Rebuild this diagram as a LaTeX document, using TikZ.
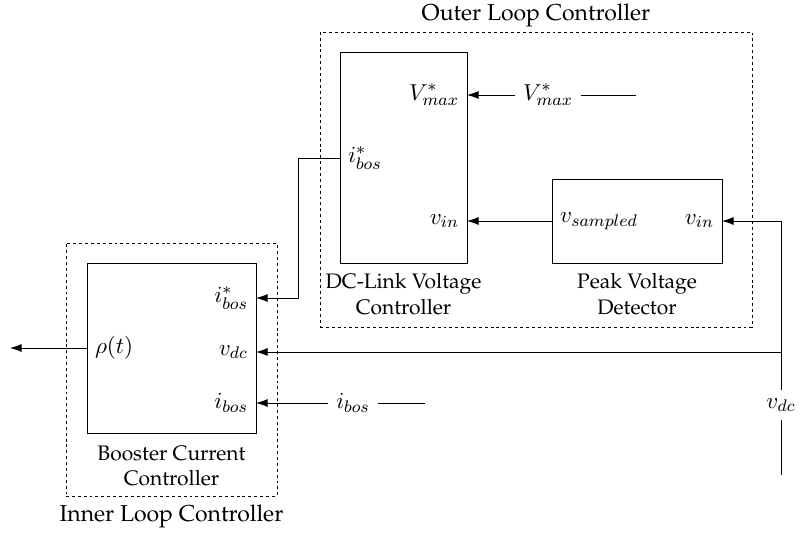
\documentclass[tikz,border=0pt,11pt]{standalone}
\usepackage[T1]{fontenc}
\renewcommand{\rmdefault}{ppl}
\usepackage{amsmath}
\usepackage{amssymb}
\usetikzlibrary{arrows,arrows.meta,positioning}
\newcommand{\pxl}{0.476pt}

\begin{document}
\begin{tikzpicture}[x=0.476pt,y=-0.476pt,>={Latex[length=5.5pt,width=3.8pt]},
    blk/.style={draw,shape=rectangle,inner sep=0pt},
    loopbox/.style={draw,shape=rectangle,inner sep=0pt,dash pattern=on 1.4pt off 1.4pt},
    capt/.style={font=\small,align=center}]
            \useasboundingbox(0,0)rectangle(802,534);

            \node[blk,minimum width=127*\pxl,minimum height=211*\pxl](n1)at(403.5,157.5){};
            \node[blk,minimum width=170*\pxl,minimum height=84*\pxl](n2)at(637,221){};
            \node[blk,minimum width=169*\pxl,minimum height=170*\pxl](n3)at(171.5,348){};
            \node[loopbox,minimum width=432*\pxl,minimum height=295*\pxl](n4)at(536,179.5){};
            \node[loopbox,minimum width=211*\pxl,minimum height=253*\pxl](n5)at(171.5,369.5){};

            \node[above=-1.5pt of n4](t1){Outer Loop Controller};
            \node[below=0pt of n5](t2){Inner Loop Controller};
            \node[capt,below=1pt of n1](c1){DC-Link Voltage\\Controller};
            \node[capt,below=1pt of n2](c2){Peak Voltage\\Detector};
            \node[capt,below=2pt of n3](c3){Booster Current\\Controller};

            \node[anchor=east](p1)at(467,95){$V^*_{max}$};
            \node[anchor=west](p2)at(340,158){$i^*_{bos}$};
            \node[anchor=east](p3)at(467,221){$v_{in}$};
            \node[anchor=west](p4)at(552,221){$v_{sampled}$};
            \node[anchor=east](p5)at(722,221){$v_{in}$};
            \node[anchor=east](p6)at(256,298){$i^*_{bos}$};
            \node[anchor=west](p7)at(87,348){$\rho(t)$};
            \node[anchor=east](p8)at(256,352){$v_{dc}$};
            \node[anchor=east](p9)at(256,403){$i_{bos}$};

            \node(s1)at(548,95){$V^*_{max}$};
            \node(s2)at(353,403){$i_{bos}$};
            \node(s3)at(781,405){$v_{dc}$};
            \coordinate(e1)at(636,95);
            \coordinate(e2)at(425,403);
            \coordinate(e3)at(781,475);
            \coordinate(e4)at(10,348);
            \coordinate(k1)at(781,352);
            \coordinate(k2)at(298,158);

            \draw(e1)--(s1);
            \draw[->](s1)--(p1.east);
            \draw[->](p2.west)--(k2)|-(p6.east);
            \draw[->](p4.west)--(p3.east);
            \draw(e3)--(s3);
            \draw[->](s3)--(k1)|-(p5.east);
            \draw[->](k1)--(p8.east);
            \draw[->](p7.west)--(e4);
            \draw(e2)--(s2);
            \draw[->](s2)--(p9.east);
\end{tikzpicture}
\end{document}
